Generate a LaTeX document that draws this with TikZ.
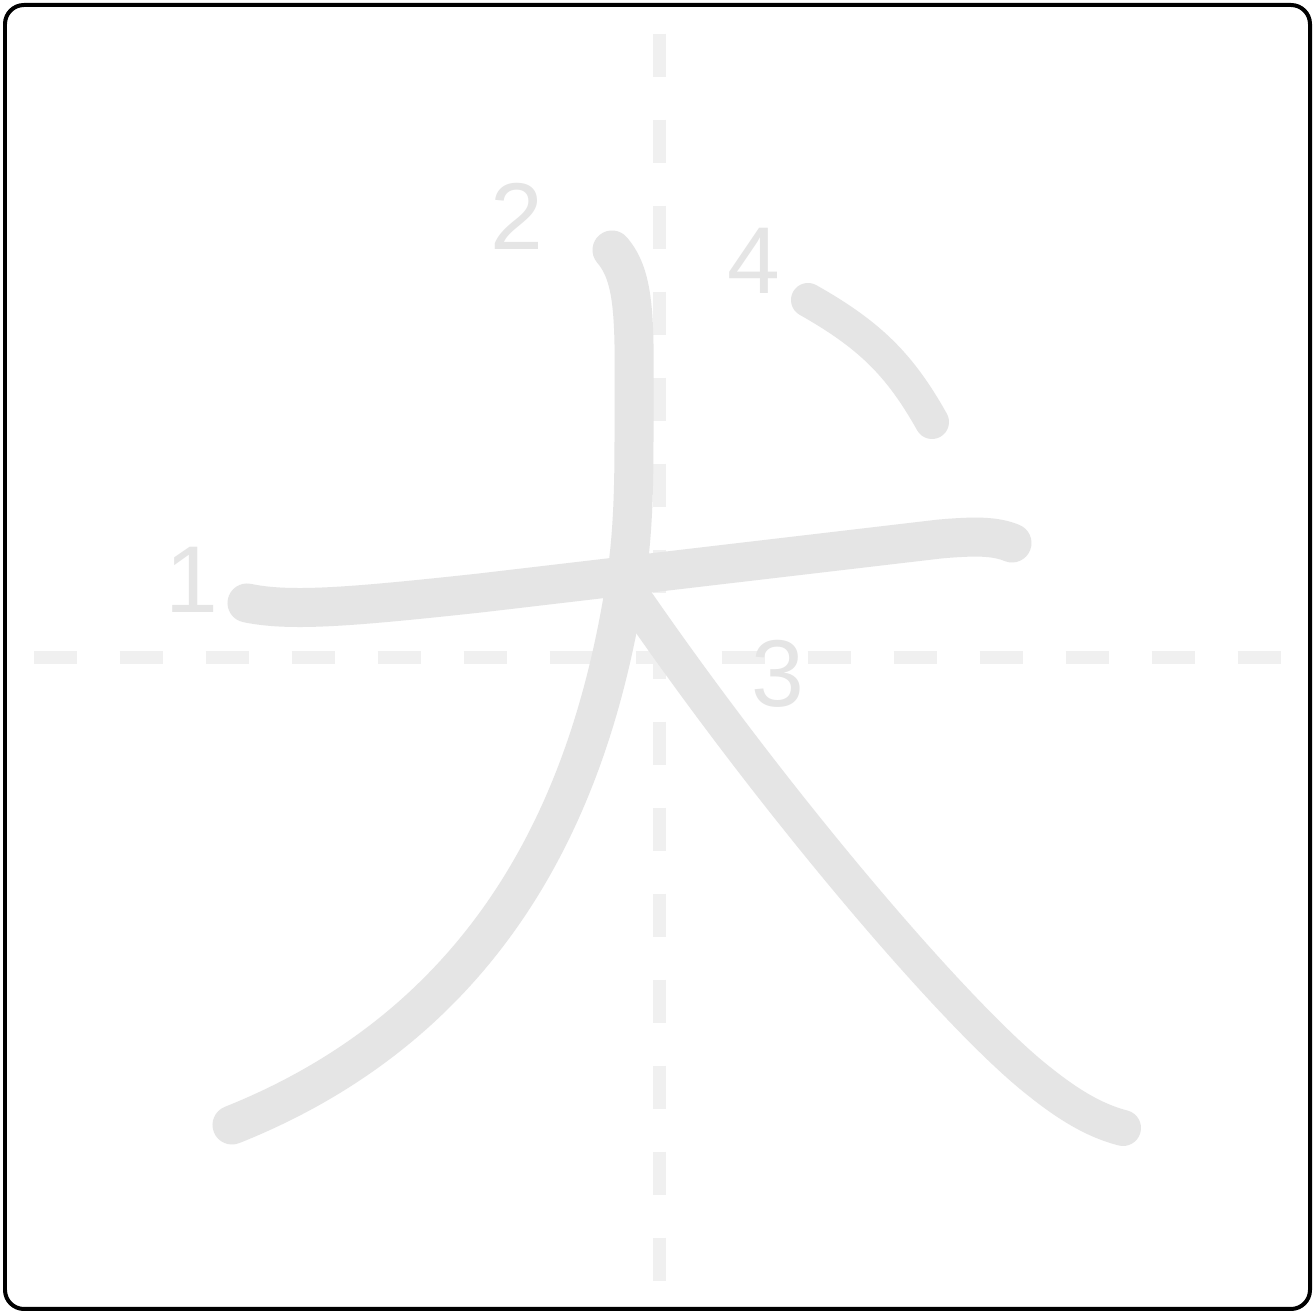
\documentclass[tikz,border=0pt]{standalone}
\usepackage{fontspec}
\setsansfont{Liberation Sans}
\usepackage{xcolor}
\usepackage{tikz}
\usetikzlibrary{positioning, calc}
\definecolor{strokegray}{HTML}{E5E5E5}
\definecolor{guidegray}{HTML}{F0F0F0}
\tikzset{
  framebox/.style={
    draw=black, line width=0.4mm, rounded corners=1.9mm, fill=white
  },
  guideline/.style={
    draw=guidegray, line width=1.3mm, dash pattern=on 4.3mm off 4.3mm
  },
  kanjistroke/.style={
    draw=strokegray, line width=3.9mm, line cap=round, line join=round
  },
  strokenum/.style={
    text=strokegray, font=\sffamily\fontsize{27}{32}\selectfont, inner sep=0pt
  },
}

\begin{document}
\begin{tikzpicture}[x=0.1mm, y=-0.1mm]
  \useasboundingbox (0,0) rectangle (1314,1313);

  % ── Frame ──
  \path[framebox] (5,5) rectangle (1310,1309);

  % ── Guides ──
  \draw[guideline] (34,658) -- (1290,658);
  \draw[guideline] (659,34) -- (659,1290);

  % ── Strokes ──
  \draw[kanjistroke] (247,603) .. controls (290,612) and (350,607) .. (480,593)
    -- (940,539) .. controls (975,536) and (995,536) .. (1012,543);
  \draw[kanjistroke] (612,250) .. controls (638,280) and (634,330) .. (634,440)
    .. controls (634,500) and (632,540) .. (626,580)
    .. controls (598,760) and (520,1010) .. (232,1125);
  \draw[kanjistroke, line width=3.6mm] (635,600)
    .. controls (780,810) and (960,1020) .. (1040,1082)
    .. controls (1075,1110) and (1100,1122) .. (1123,1128);
  \draw[kanjistroke, line width=3.4mm] (808,300)
    .. controls (870,335) and (900,365) .. (932,422);

  % ── Numbers ──
  \node[strokenum] (num1) at (192,580) {1};
  \node[strokenum] (num2) at (517,216) {2};
  \node[strokenum] (num3) at (778,674) {3};
  \node[strokenum] (num4) at (754,261) {4};
\end{tikzpicture}
\end{document}
